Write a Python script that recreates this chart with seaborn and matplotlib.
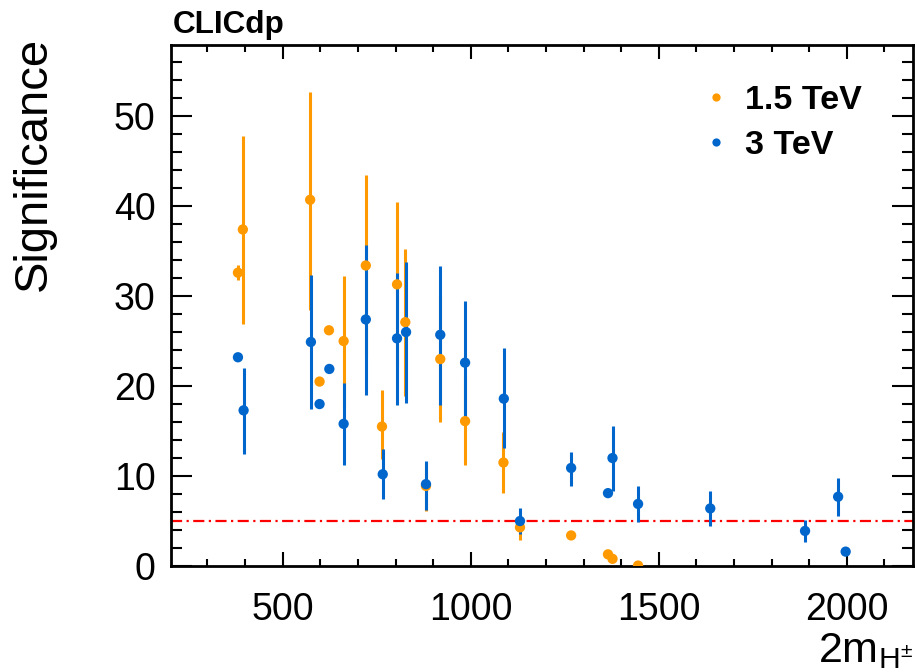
import numpy as np
import pandas as pd
import matplotlib
matplotlib.use('Agg')
from matplotlib import pyplot as plt
from matplotlib.ticker import MultipleLocator
import seaborn as sns

# values (2m_H+- vs significance)
mass_15 = [381, 394, 573, 598, 623, 662, 721, 764, 804, 826, 881, 919, 985, 1087, 1131, 1267, 1365, 1377, 1445]
sig_15 = [32.6, 37.4, 40.7, 20.5, 26.2, 25.0, 33.4, 15.5, 31.3, 27.1, 8.9, 23.0, 16.1, 11.5, 4.3, 3.4, 1.3, 0.8, 0.05]
low_15 = [31.8, 26.9, 28.4, np.nan, np.nan, 17.8, 23.3, 11.9, 22.2, 18.9, 6.1, 16.0, 11.2, 8.1, 2.9, np.nan, np.nan, np.nan, np.nan]
high_15 = [33.4, 47.8, 52.7, np.nan, np.nan, 32.2, 43.4, 19.6, 40.4, 35.2, 11.5, 29.9, 21.0, 14.9, 5.7, np.nan, np.nan, np.nan, np.nan]

mass_3 = [381, 396, 575, 598, 624, 662, 721, 766, 804, 828, 881, 919, 985, 1088, 1131, 1267, 1365, 1377, 1445, 1637, 1889, 1977, 1997]
sig_3 = [23.2, 17.3, 24.9, 18.0, 21.9, 15.8, 27.4, 10.2, 25.3, 26.0, 9.1, 25.7, 22.6, 18.6, 5.0, 10.9, 8.1, 12.0, 6.9, 6.4, 3.9, 7.7, 1.6]
low_3 = [np.nan, 12.4, 17.5, np.nan, np.nan, 11.2, 19.0, 7.5, 17.9, 18.1, 6.2, 17.9, 16.0, 13.1, 3.6, 8.9, np.nan, 8.3, 4.9, 4.5, 2.7, 5.6, np.nan]
high_3 = [np.nan, 22.0, 32.3, np.nan, np.nan, 20.3, 35.7, 13.0, 32.6, 33.8, 11.7, 33.3, 29.5, 24.2, 6.5, 12.7, np.nan, 15.6, 8.9, 8.3, 5.1, 9.8, np.nan]

threshold = 5
energies = ['1.5 TeV', '3 TeV']
colors = {'1.5 TeV': '#ff9900', '3 TeV': '#0066cc'}

df_15 = pd.DataFrame({'mass': mass_15, 'sig': sig_15, 'low': low_15, 'high': high_15})
df_15['energy'] = '1.5 TeV'
df_3 = pd.DataFrame({'mass': mass_3, 'sig': sig_3, 'low': low_3, 'high': high_3})
df_3['energy'] = '3 TeV'
df = pd.concat([df_15, df_3], ignore_index=True)

sns.set_theme(style='ticks')
plt.rcParams['font.family'] = ['Liberation Sans', 'DejaVu Sans']
plt.rcParams['mathtext.default'] = 'regular'
plt.rcParams['text.color'] = 'black'
plt.rcParams['axes.labelcolor'] = 'black'
plt.rcParams['xtick.color'] = 'black'
plt.rcParams['ytick.color'] = 'black'

fig = plt.figure(figsize=(9.17, 6.72), dpi=100)
ax = fig.add_axes([0.1865, 0.1577, 0.8091, 0.7753])

# error bars (no caps)
for e in energies:
    bars = df[df['energy'] == e].dropna()
    ax.vlines(bars['mass'], bars['low'], bars['high'], color=colors[e], lw=2.2, zorder=2)

sns.scatterplot(data=df, x='mass', y='sig', hue='energy', palette=colors,
                s=55, linewidth=0, ax=ax, zorder=3)

ax.axhline(threshold, color='#ff0000', lw=1.6, linestyle=(0, (5, 2, 1, 2)), zorder=1)

ax.set_xlim(203, 2176)
ax.set_ylim(0, 57.9)
ax.xaxis.set_major_locator(MultipleLocator(500))
ax.xaxis.set_minor_locator(MultipleLocator(100))
ax.yaxis.set_major_locator(MultipleLocator(10))
ax.yaxis.set_minor_locator(MultipleLocator(2))

ax.tick_params(which='both', direction='in', top=True, right=True, width=1.5, color='black')
ax.tick_params(axis='x', which='major', length=10, pad=19, labelsize=27)
ax.tick_params(axis='x', which='minor', length=5)
ax.tick_params(axis='y', which='major', length=15, pad=11, labelsize=27)
ax.tick_params(axis='y', which='minor', length=8)
for sp in ax.spines.values():
    sp.set_color('black')
    sp.set_linewidth(2)

ax.set_xlabel('2m$_{H^{\\pm}}$', fontsize=31, loc='right')
ax.xaxis.set_label_coords(1.0, -0.125)
ax.set_ylabel('Significance', fontsize=34)
ax.yaxis.set_label_coords(-0.155, 0.7716)

handles, labels = ax.get_legend_handles_labels()
ax.legend(handles, labels, loc='upper left', bbox_to_anchor=(0.7623, 0.8735),
          bbox_transform=fig.transFigure, frameon=False, markerscale=0.8,
          handlelength=1, handletextpad=0.35, borderpad=0, borderaxespad=0,
          labelspacing=0.4, prop={'weight': 'bold', 'size': 24.5})

fig.text(0.1887, 0.951, 'CLICdp', fontsize=22.7, fontweight='bold', va='baseline', ha='left')

fig.savefig('out.png', dpi=100)
